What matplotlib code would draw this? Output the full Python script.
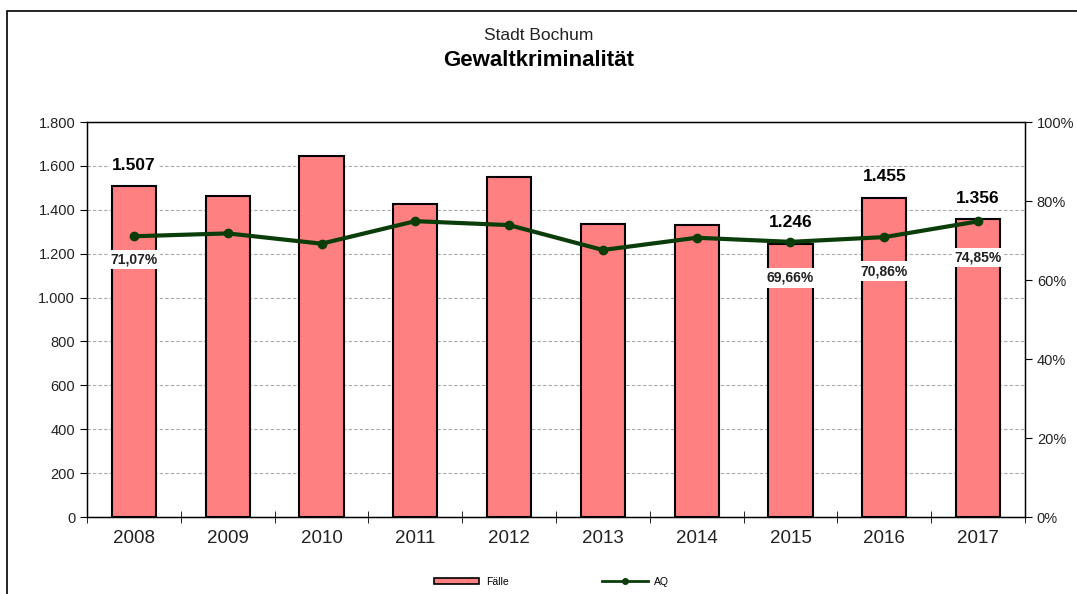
import numpy as np
import matplotlib.pyplot as plt
from matplotlib.patches import Rectangle
from matplotlib.lines import Line2D
from matplotlib.ticker import FuncFormatter, FixedLocator

plt.rcParams['font.family'] = ['Liberation Sans', 'DejaVu Sans']

years = ['2008', '2009', '2010', '2011', '2012', '2013', '2014', '2015', '2016', '2017']
faelle = [1507, 1463, 1645, 1425, 1550, 1337, 1332, 1246, 1455, 1356]
aq = [71.07, 71.8, 69.2, 74.9, 73.9, 67.6, 70.7, 69.66, 70.86, 74.85]

# which points get labels
bar_label_idx = [0, 7, 8, 9]
aq_label_idx = [0, 7, 8, 9]
aq_label_off = [-23, -36, -34, -36]   # pixel offsets below the point


def de_thousands(v, pos):
    return '{:,.0f}'.format(v).replace(',', '.')


def main():
    fig = plt.figure(figsize=(10.77, 5.94), dpi=100)
    ax = fig.add_axes([0.0808, 0.1296, 0.8709, 0.665])
    x = np.arange(len(years))

    ax.bar(x, faelle, width=0.47, color='#FF8080', edgecolor='black',
           linewidth=1.5, zorder=2)
    ax.set_xlim(-0.5, len(years) - 0.5)
    ax.set_ylim(0, 1800)
    ax.set_yticks(np.arange(0, 1801, 200))
    ax.yaxis.set_major_formatter(FuncFormatter(de_thousands))
    ax.tick_params(axis='y', labelsize=10.5, direction='out', length=5, color='black',
                   labelcolor='#222222')
    ax.yaxis.grid(True, linestyle=(0, (3, 2)), color='#a8a8a8', linewidth=0.8, zorder=0)
    ax.set_axisbelow(True)

    ax.set_xticks(x)
    ax.set_xticklabels(years, fontsize=13.5, color='#222222')
    ax.tick_params(axis='x', which='major', length=0, pad=9)
    ax.xaxis.set_minor_locator(FixedLocator(np.arange(-0.5, len(years), 1.0)))
    ax.tick_params(axis='x', which='minor', direction='inout', length=8)
    for s in ax.spines.values():
        s.set_linewidth(1.0)

    ax2 = ax.twinx()
    ax2.plot(x, aq, color='#0b3d0b', linewidth=3, marker='o', markersize=6,
             markerfacecolor='#0b3d0b', zorder=3)
    ax2.set_ylim(0, 100)
    ax2.set_yticks(np.arange(0, 101, 20))
    ax2.yaxis.set_major_formatter(FuncFormatter(lambda v, p: '{:.0f}%'.format(v)))
    ax2.tick_params(axis='y', labelsize=10.5, direction='out', length=5,
                    labelcolor='#222222')

    # labels on bars
    for i in bar_label_idx:
        ybar = faelle[i] / 1800 * 100
        ax2.annotate('{:,.0f}'.format(faelle[i]).replace(',', '.'), (x[i], ybar),
                     xytext=(0, 21), textcoords='offset pixels', ha='center',
                     va='center', fontsize=12.5, fontweight='bold', zorder=5,
                     bbox=dict(boxstyle='square,pad=0.15', fc='white', ec='none'))
    for i, off in zip(aq_label_idx, aq_label_off):
        ax2.annotate('{:.2f}%'.format(aq[i]).replace('.', ','), (x[i], aq[i]),
                     xytext=(0, off), textcoords='offset pixels', ha='center',
                     va='center', fontsize=10, fontweight='bold', color='#222222',
                     zorder=5,
                     bbox=dict(boxstyle='square,pad=0.2', fc='white', ec='none'))

    fig.text(0.5, 0.940, 'Stadt Bochum', ha='center', va='center', fontsize=12.5,
             color='#222222')
    fig.text(0.5, 0.898, 'Gewaltkriminalität', ha='center', va='center',
             fontsize=16, fontweight='bold')

    handles = [Rectangle((0, 0), 1, 1, fc='#FF8080', ec='black', lw=1.2),
               Line2D([], [], color='#0b3d0b', lw=2, marker='o', markersize=4)]
    fig.legend(handles, ['Fälle', 'AQ'], loc='center', bbox_to_anchor=(0.512, 0.021),
               ncol=2, frameon=False, fontsize=7.5, columnspacing=9,
               handlelength=4.4, handleheight=0.5, handletextpad=0.6)

    fig.add_artist(Rectangle((0.0065, -0.2), 1.5, 0.9815 + 0.2, fill=False,
                             ec='black', lw=1.2, transform=fig.transFigure,
                             clip_on=False))

    fig.savefig('out.png', dpi=100)


if __name__ == '__main__':
    main()
